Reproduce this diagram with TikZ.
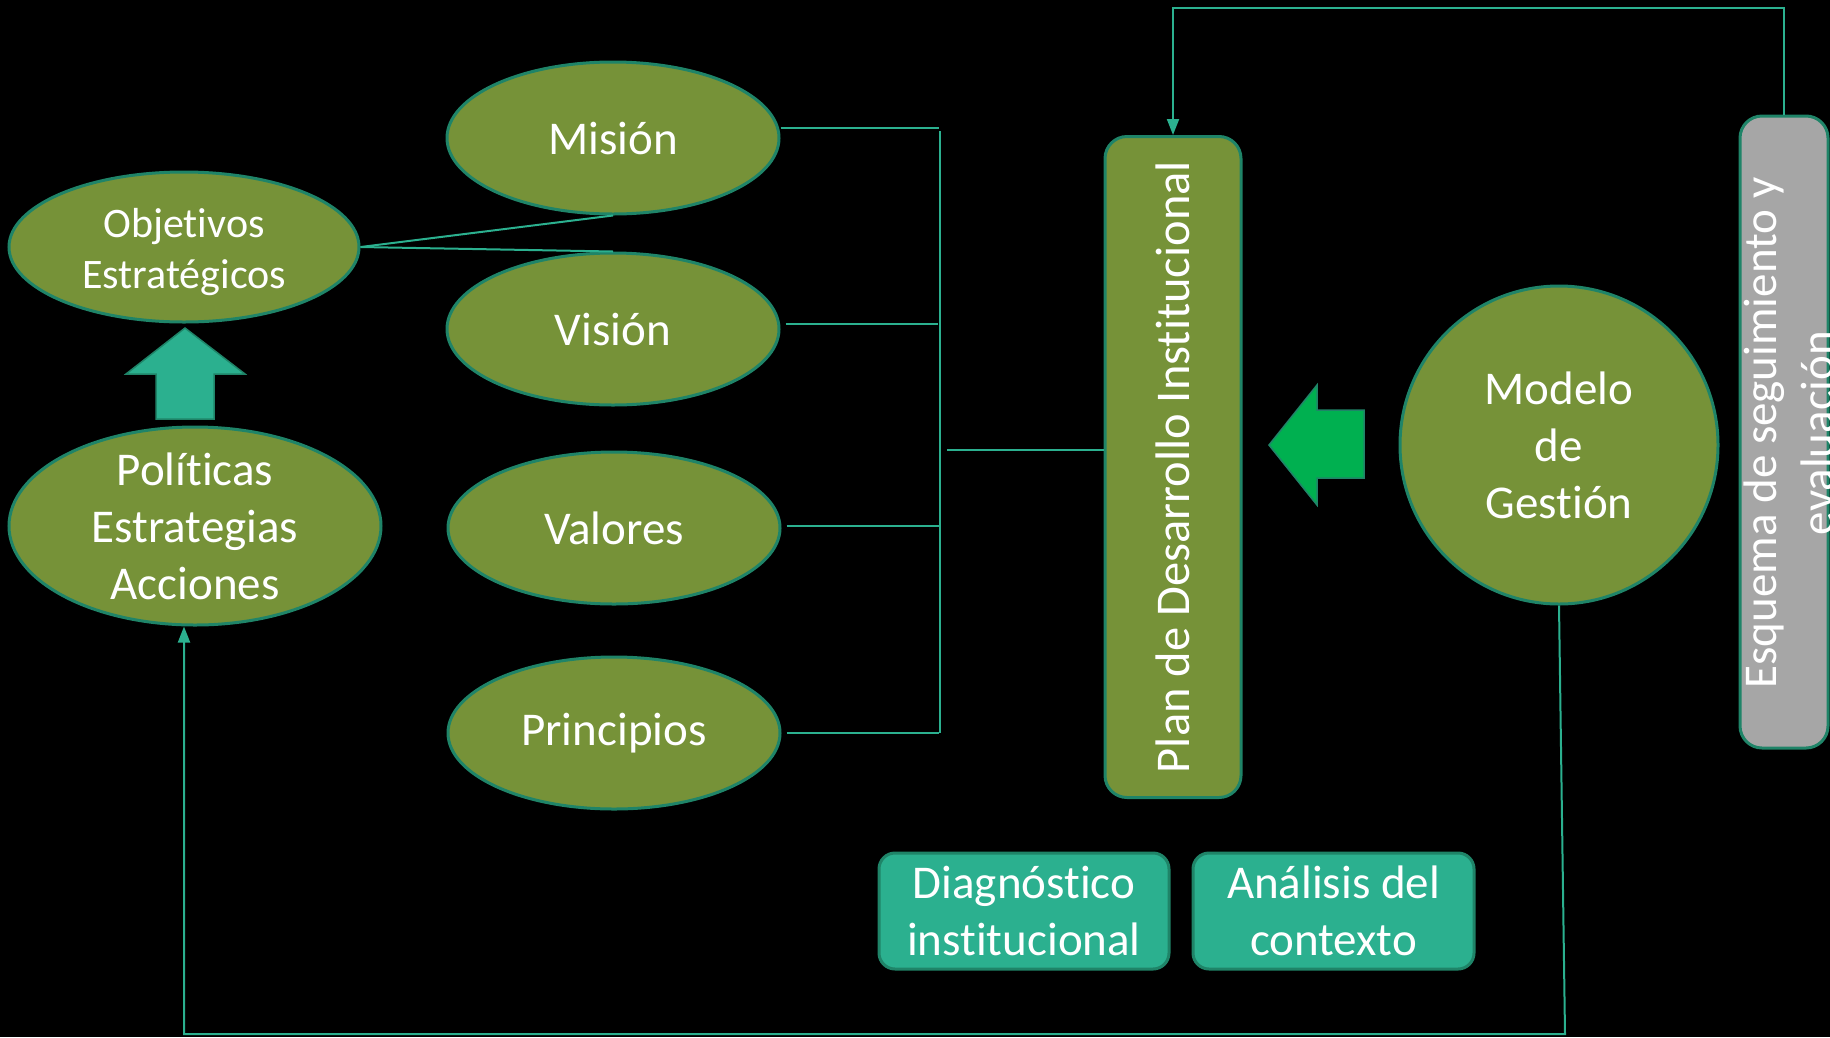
\documentclass[tikz,border=0pt]{standalone}
\usepackage{fontspec}
\setmainfont{Carlito}[Ligatures=CommonOff]
\usepackage{xcolor}
\usetikzlibrary{positioning, shapes.geometric, arrows.meta}

\definecolor{olive}{RGB}{118,146,56}
\definecolor{rimteal}{RGB}{31,132,104}
\definecolor{linkteal}{RGB}{43,176,143}
\definecolor{brightgreen}{RGB}{0,176,80}
\definecolor{boxgray}{RGB}{166,166,166}

\begin{document}
\begin{tikzpicture}[
      x=1pt, y=-1pt,
      every node/.style={text=white, align=center, inner sep=0pt, font=\fontsize{47}{57}\selectfont},
      oval/.style={ellipse, draw=rimteal, line width=3pt, fill=olive, minimum width=332pt, minimum height=152pt},
      tallbox/.style={rectangle, rounded corners=22pt, draw=rimteal, line width=3pt, rotate=90},
      sidebox/.style={rectangle, rounded corners=16pt, draw=rimteal, line width=3pt, fill=linkteal, minimum height=116pt},
      link/.style={draw=linkteal, line width=2pt},
      arrow/.style={link, -{Triangle[length=16pt, width=12pt]}}
  ]
  \useasboundingbox (0,0) rectangle (1830,1037);
  \fill[black] (0,0) rectangle (1830,1037);

  % Nodes ------------------------------------------------
  \node[oval] (mision)     at (613,138) {Misión};
  \node[oval] (vision)     at (613,329) {Visión};
  \node[oval] (valores)    at (614,528) {Valores};
  \node[oval] (principios) at (614,733) {Principios};
  \node[oval, minimum width=350pt, minimum height=150pt, font=\fontsize{42}{51}\selectfont] (objetivos) at (184,247) {\raisebox{-6pt}[\height][\depth]{\begin{tabular}{@{}c@{}}Objetivos\\Estratégicos\end{tabular}}};
  \node[oval, minimum width=372pt, minimum height=198pt, inner ysep=-12pt] (politicas) at (195,526) {Políticas\\Estrategias\\Acciones};
  \node[tallbox, fill=olive, minimum width=661pt, minimum height=136pt, font=\fontsize{48.5}{58}\selectfont] (plan) at (1173,467) {Plan de Desarrollo Institucional};
  \node[circle, draw=rimteal, line width=3pt, fill=olive, minimum size=318pt] (modelo) at (1559,445) {Modelo\\de\\Gestión};
  \node[tallbox, fill=boxgray, minimum width=632pt, minimum height=88pt] (esquema) at (1784,432) {};
  \node[rotate=90] (esquematext) at (1789,433) {Esquema de seguimiento y\\evaluación};
  \node[sidebox, minimum width=290pt] (diagnostico) at (1024,911) {Diagnóstico\\institucional};
  \node[sidebox, minimum width=281pt, right=21pt of diagnostico] (analisis) {Análisis del\\contexto};

  % Block arrows
  \draw[fill=linkteal, draw=rimteal, line width=1.5pt] (156,419) -- (156,374) -- (126,374) -- (185,328) -- (245,374) -- (214,374) -- (214,419) -- cycle;
  \draw[fill=brightgreen, draw=rimteal, line width=1.5pt] (1364,410) -- (1317,410) -- (1317,385) -- (1269,445) -- (1317,505) -- (1317,478) -- (1364,478) -- cycle;

  % Arrows ------------------------------------------------
  \coordinate (brtop) at (940,131);
  \coordinate (brbot) at (940,733);
  \coordinate (loopcorner) at (1565,1034);
  \draw[link] (objetivos.east) -- (mision.south);
  \draw[link] (objetivos.east) -- (vision.north);
  \draw[link] ([yshift=10pt]mision.east) -- ++(158,0);
  \draw[link] ([xshift=5pt, yshift=5pt]vision.east) -- ++(152,0);
  \draw[link] ([xshift=5pt, yshift=2pt]valores.east) -- ++(152,0);
  \draw[link] ([xshift=5pt]principios.east) -- ++(152,0);
  \draw[link] (brtop) -- (brbot);
  \draw[link] ([yshift=17pt]plan.north) -- ++(-157,0);
  \draw[arrow] (esquema.east) -- ++(0,-107) -| (plan.east);          % seguimiento
  \draw[arrow] (modelo.south) -- (loopcorner) -| ([xshift=-11pt]politicas.south);
\end{tikzpicture}
\end{document}
